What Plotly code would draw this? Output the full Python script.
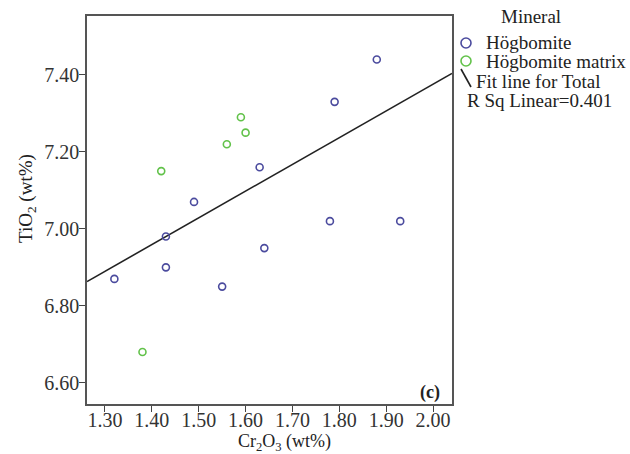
import plotly.graph_objects as go
import numpy as np

# Data
hog_x = [1.32, 1.43, 1.43, 1.49, 1.55, 1.63, 1.64, 1.78, 1.79, 1.88, 1.93]
hog_y = [6.87, 6.98, 6.90, 7.07, 6.85, 7.16, 6.95, 7.02, 7.33, 7.44, 7.02]
mat_x = [1.38, 1.42, 1.56, 1.59, 1.60]
mat_y = [6.68, 7.15, 7.22, 7.29, 7.25]
fit_slope = 0.6946
fit_intercept = 5.9867
x_ticks = [1.30, 1.40, 1.50, 1.60, 1.70, 1.80, 1.90, 2.00]
y_ticks = [6.60, 6.80, 7.00, 7.20, 7.40]
x_range = [1.2616, 2.0405]
y_range = [6.545, 7.553]

BLUE = "#4b4b9e"
GREEN = "#62c24a"
FONT = "Liberation Serif"

fig = go.Figure()
fx = np.array(x_range)
fig.add_trace(go.Scatter(x=fx, y=fit_intercept + fit_slope * fx, mode="lines",
                         line=dict(color="#222222", width=1.6), showlegend=False))
fig.add_trace(go.Scatter(x=hog_x, y=hog_y, mode="markers", showlegend=False,
                         marker=dict(symbol="circle-open", size=7, color=BLUE,
                                     line=dict(width=1.6, color=BLUE))))
fig.add_trace(go.Scatter(x=mat_x, y=mat_y, mode="markers", showlegend=False,
                         marker=dict(symbol="circle-open", size=7, color=GREEN,
                                     line=dict(width=1.6, color=GREEN))))

L, R, T, B = 87, 178, 16, 50
W, H = 630, 454
pw, ph = W - L - R, H - T - B

def px(x):
    return (x - L) / pw

def py(y):
    return (H - B - y) / ph

axis_common = dict(showgrid=False, zeroline=False, showline=True, mirror=True,
                   linecolor="#555555", linewidth=1.5, ticks="outside", ticklen=6,
                   tickwidth=1.3, tickcolor="#444444",
                   tickfont=dict(family=FONT, size=20, color="#333333"))
fig.update_xaxes(range=x_range, tickvals=x_ticks, ticklabelstandoff=-9,
                 ticktext=[f"{v:.2f}" for v in x_ticks], **axis_common)
fig.update_yaxes(range=y_range, tickvals=y_ticks, ticklabelstandoff=-4,
                 ticktext=[f"{v:.2f}" for v in y_ticks], **axis_common)

def note(text, x, y, size=19, xanchor="center", **kw):
    return dict(text=text, x=px(x), y=py(y), xref="paper", yref="paper",
                xanchor=xanchor, yanchor="middle", showarrow=False,
                font=dict(family=FONT, size=size, color="#222222"), **kw)

ann = [
    note("Cr<sub>2</sub>O<sub>3</sub> (wt%)", 284, 442, size=18),
    note("TiO<sub>2</sub> (wt%)", 27, 199, textangle=-90),
    note("<b>(c)</b>", 430, 392, size=18),
    note("Mineral", 531, 17),
]
for txt, xx, yy in [("Högbomite", 484, 43), ("Högbomite matrix", 484, 61),
                    ("Fit line for Total", 474, 82), ("R Sq Linear=0.401", 465, 100)]:
    ann.append(note(txt, xx, yy, xanchor="left"))

shapes = []
for col, cy in [(BLUE, 43), (GREEN, 61)]:
    shapes.append(dict(type="circle", xref="paper", yref="paper",
                       x0=px(461), x1=px(471), y0=py(cy - 5), y1=py(cy + 5),
                       line=dict(color=col, width=1.6)))
shapes.append(dict(type="line", xref="paper", yref="paper",
                   x0=px(461), y0=py(69), x1=px(471), y1=py(87),
                   line=dict(color="#222222", width=1.6)))

fig.update_layout(width=W, height=H, margin=dict(l=L, r=R, t=T, b=B),
                  paper_bgcolor="white", plot_bgcolor="white",
                  annotations=ann, shapes=shapes, showlegend=False)

fig.write_html("out.html")
